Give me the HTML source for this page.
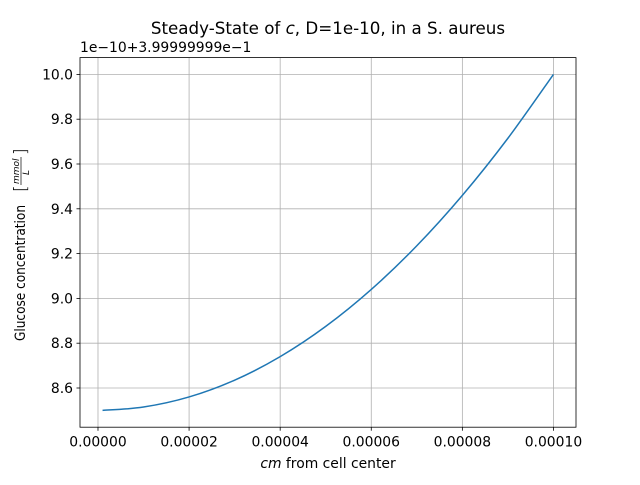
<!DOCTYPE html>
<html><head><meta charset="utf-8"><style>
body{margin:0;background:#fff;}
svg text{font-family:"DejaVu Sans","Liberation Sans",sans-serif;fill:#000;}
</style></head><body>
<svg id="chart" width="640" height="480" xmlns="http://www.w3.org/2000/svg">
<rect width="640" height="480" fill="#fff"/>
<text x="328" y="34" font-size="16.7" text-anchor="middle">Steady-State of <tspan font-style="italic">c</tspan>, D=1e-10, in a S. aureus</text>
<text x="80" y="52" font-size="13.9">1e−10+3.99999999e−1</text>
<g id="grid"></g>
<g id="ticks"></g>
<path id="line" fill="none" stroke="#1f77b4" stroke-width="1.5"/>
<rect x="80" y="57.6" width="496" height="369.6" fill="none" stroke="#000" stroke-width="0.8"/>
<text x="328" y="468" font-size="13.9" text-anchor="middle"><tspan font-style="italic">cm</tspan> from cell center</text>
<g transform="translate(25,341) rotate(-90)">
<text x="0" y="0" font-size="13.9" textLength="136" lengthAdjust="spacingAndGlyphs">Glucose concentration</text>
<text x="149" y="1" font-size="17" font-weight="100">[</text>
<text x="157" y="-6" font-size="9" font-style="italic">mmol</text>
<line x1="156" y1="-4" x2="184" y2="-4" stroke="#000" stroke-width="0.7"/>
<text x="166" y="4" font-size="9" font-style="italic">L</text>
<text x="186" y="1" font-size="17" font-weight="100">]</text>
</g>
</svg>
<script>
const xValues=[0.000001,0.00001,0.00002,0.00003,0.00004,0.00005,0.00006,0.00007,0.00008,0.00009,0.0001];
const yValues=[8.5,8.515,8.56,8.635,8.74,8.875,9.04,9.235,9.46,9.715,10.0];
const xTicks=[0,0.00002,0.00004,0.00006,0.00008,0.0001];
const xTickLabels=["0.00000","0.00002","0.00004","0.00006","0.00008","0.00010"];
const yTicks=[8.6,8.8,9.0,9.2,9.4,9.6,9.8,10.0];
const yTickLabels=["8.6","8.8","9.0","9.2","9.4","9.6","9.8","10.0"];
const L=80,R=576,T=57.6,B=427.2;
const xmin=-0.00000395,xmax=0.00010495,ymin=8.425,ymax=10.075;
const sx=v=>L+(v-xmin)/(xmax-xmin)*(R-L);
const sy=v=>B-(v-ymin)/(ymax-ymin)*(B-T);
const NS="http://www.w3.org/2000/svg";
const grid=document.getElementById('grid'),ticks=document.getElementById('ticks');
function mk(tag,attrs,parent){const e=document.createElementNS(NS,tag);for(const k in attrs)e.setAttribute(k,attrs[k]);parent.appendChild(e);return e;}
xTicks.forEach((v,i)=>{const x=sx(v);
const g=mk('line',{x1:x,x2:x,y1:T,y2:B,stroke:'#b0b0b0','stroke-width':0.8},grid);


const t=mk('line',{x1:x,x2:x,y1:B,y2:B+3.5,stroke:'#000','stroke-width':0.8},ticks);


const l=mk('text',{x:x,y:B+19.5,'font-size':13.9,'text-anchor':'middle'},ticks);l.textContent=xTickLabels[i];

});
yTicks.forEach((v,i)=>{const y=sy(v);
const g=mk('line',{x1:L,x2:R,y1:y,y2:y,stroke:'#b0b0b0','stroke-width':0.8},grid);


const t=mk('line',{x1:L-3.5,x2:L,y1:y,y2:y,stroke:'#000','stroke-width':0.8},ticks);


const l=mk('text',{x:L-7,y:y+5,'font-size':13.9,'text-anchor':'end'},ticks);l.textContent=yTickLabels[i];

});
let d='';
for(let i=0;i<xValues.length;i++){const x=sx(xValues[i]),y=sy(yValues[i]);
if(i===0){d+='M'+x+','+y;}else{
const x0=sx(xValues[i-1]),y0=sy(yValues[i-1]);
const xp=i>1?sx(xValues[i-2]):x0,yp=i>1?sy(yValues[i-2]):y0;
const xn=i<xValues.length-1?sx(xValues[i+1]):x,yn=i<xValues.length-1?sy(yValues[i+1]):y;
d+=' C'+(x0+(x-xp)/6)+','+(y0+(y-yp)/6)+' '+(x-(xn-x0)/6)+','+(y-(yn-y0)/6)+' '+x+','+y;}}
document.getElementById('line').setAttribute('d',d);
</script>
</body></html>
